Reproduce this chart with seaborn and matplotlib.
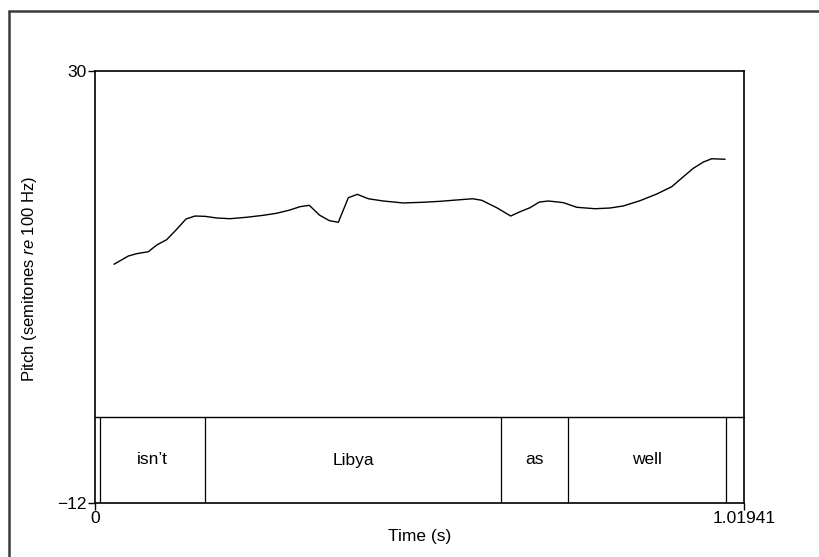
import matplotlib
matplotlib.use("Agg")
import matplotlib.pyplot as plt
import matplotlib.transforms as mtransforms
from matplotlib.lines import Line2D
import numpy as np
import pandas as pd
import seaborn as sns

# Pitch track (time in s, pitch in semitones re 100 Hz)
time_s = [0.0298, 0.0523, 0.0655, 0.0837, 0.0968, 0.1125, 0.1282, 0.1428, 0.1570,
          0.1727, 0.1910, 0.2119, 0.2381, 0.2642, 0.2852, 0.3061, 0.3218, 0.3364,
          0.3521, 0.3678, 0.3819, 0.3976, 0.4117, 0.4290, 0.4525, 0.4839, 0.5153,
          0.5415, 0.5677, 0.5928, 0.6070, 0.6305, 0.6525, 0.6671, 0.6828, 0.6974,
          0.7115, 0.7272, 0.7351, 0.7561, 0.7848, 0.8084, 0.8292, 0.8554, 0.8817,
          0.9052, 0.9234, 0.9391, 0.9548, 0.9680, 0.9889]
pitch_st = [11.21, 12.01, 12.24, 12.43, 13.08, 13.60, 14.61, 15.61, 15.90,
            15.87, 15.71, 15.64, 15.78, 15.97, 16.17, 16.49, 16.81, 16.94,
            16.00, 15.45, 15.29, 17.68, 18.01, 17.58, 17.36, 17.17, 17.24,
            17.33, 17.46, 17.58, 17.43, 16.71, 15.90, 16.32, 16.71, 17.26,
            17.36, 17.26, 17.20, 16.75, 16.61, 16.68, 16.88, 17.39, 18.04,
            18.75, 19.72, 20.54, 21.15, 21.47, 21.42]

# Word tier: interval boundaries and labels
boundaries = [0.0078, 0.1727, 0.6373, 0.7425, 0.990]
words = ["isn\u2019t", "Libya", "as", "well"]

# Axis extents
x_min, x_max = 0.0, 1.01941
y_min, y_max = -12, 30
x_tick_labels = ["0", "1.01941"]
y_tick_labels = ["\u221212", "30"]

sns.set_theme(style="ticks")
plt.rcParams["font.family"] = ["Liberation Sans", "DejaVu Sans"]
plt.rcParams["mathtext.fontset"] = "custom"
plt.rcParams["mathtext.rm"] = "Liberation Sans"
plt.rcParams["mathtext.it"] = "Liberation Sans:italic"

fig = plt.figure(figsize=(8.2, 5.57), dpi=100)
fig.patch.set_facecolor("white")
ax = fig.add_axes([95 / 820, 54 / 557, 649.5 / 820, 432 / 557])

df = pd.DataFrame({"t": time_s, "p": pitch_st})
sns.lineplot(data=df, x="t", y="p", sort=False, color="black", linewidth=1.0, ax=ax)

ax.set_xlim(x_min, x_max)
ax.set_ylim(y_min, y_max)
ax.set_xticks([x_min, x_max])
ax.set_xticklabels(x_tick_labels)
ax.set_yticks([y_min, y_max])
ax.set_yticklabels(y_tick_labels)
ax.tick_params(axis="both", direction="out", length=5, width=1.0, color="black",
               labelsize=12.5, pad=1, labelcolor="black")
for s in ax.spines.values():
    s.set_visible(True)
    s.set_color("black")
    s.set_linewidth(1.2)
ax.set_facecolor("white")
ax.grid(False)

ax.set_xlabel("Time (s)", fontsize=12.5, color="black", labelpad=2)
ax.set_ylabel("Pitch (semitones$\\ \\mathit{re}$ 100 Hz)", fontsize=12,
              color="black")
ax.yaxis.set_label_coords(-56 / 649.5, 0.518)

# Word tier drawn along the bottom of the axes
tier_top = 86 / 432
trans = mtransforms.blended_transform_factory(ax.transData, ax.transAxes)
ax.plot([x_min, x_max], [tier_top, tier_top], transform=trans, color="black",
        linewidth=1.0, clip_on=False)
for b in boundaries:
    ax.plot([b, b], [0, tier_top], transform=trans, color="black", linewidth=0.9)
for i, w in enumerate(words):
    xc = (boundaries[i] + boundaries[i + 1]) / 2
    ax.text(xc, tier_top / 2, w, transform=trans, ha="center", va="center",
            fontsize=12.5, color="black")

# Outer frame
frame_kw = dict(color="#3a3a3a", linewidth=1.8, transform=fig.transFigure)
fig.add_artist(Line2D([8.5 / 820, 8.5 / 820], [0, 1 - 10.5 / 557], **frame_kw))
fig.add_artist(Line2D([8.5 / 820, 1.0], [1 - 10.5 / 557, 1 - 10.5 / 557], **frame_kw))

fig.savefig("out.png", dpi=100, facecolor="white")
